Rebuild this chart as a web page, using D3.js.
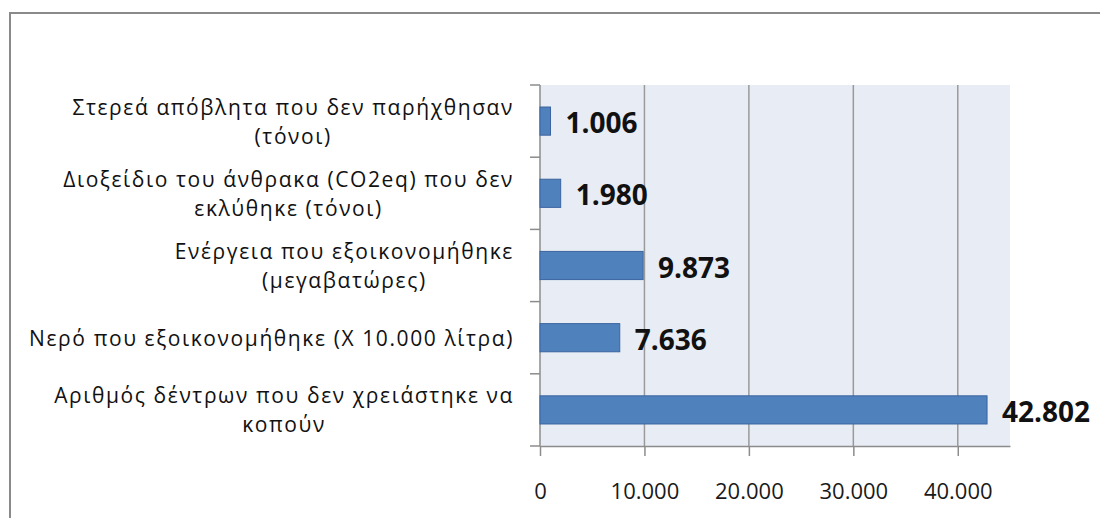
<!DOCTYPE html>
<html>
<head>
<meta charset="utf-8">
<script src="https://cdn.jsdelivr.net/npm/d3@7"></script>
<style>
  html, body { margin: 0; padding: 0; background: #fff; }
  svg { display: block; }
  text { font-family: "Open Sans", "Noto Sans", sans-serif; }
</style>
</head>
<body>
<svg id="chart" width="1100" height="518"></svg>
<script>
// Data
const categories = [
  ["Στερεά απόβλητα που δεν παρήχθησαν", "(τόνοι)"],
  ["Διοξείδιο του άνθρακα (CO2eq) που δεν", "εκλύθηκε (τόνοι)"],
  ["Ενέργεια που εξοικονομήθηκε", "(μεγαβατώρες)"],
  ["Νερό που εξοικονομήθηκε (Χ 10.000 λίτρα)"],
  ["Αριθμός δέντρων που δεν χρειάστηκε να", "κοπούν"]
];
const values = [1006, 1980, 9873, 7636, 42802];
const valueLabels = ["1.006", "1.980", "9.873", "7.636", "42.802"];
const tickValues = [0, 10000, 20000, 30000, 40000];
const tickLabels = ["0", "10.000", "20.000", "30.000", "40.000"];

const svg = d3.select("#chart");

// outer frame
svg.append("rect")
  .attr("x", 10).attr("y", 13).attr("width", 1110).attr("height", 530)
  .attr("fill", "none").attr("stroke", "#8a8a8a").attr("stroke-width", 2);

const plot = { left: 540, right: 1010, top: 85, bottom: 446 };

const x = d3.scaleLinear().domain([0, 45000]).range([plot.left, plot.right]);
const y = d3.scaleBand().domain(d3.range(categories.length))
  .range([plot.top, plot.bottom]).paddingInner(0.61).paddingOuter(0.305);
const yOuter = d3.scaleBand().domain(d3.range(categories.length))
  .range([plot.top, plot.bottom]);

// plot background
svg.append("rect")
  .attr("x", plot.left).attr("y", plot.top)
  .attr("width", plot.right - plot.left).attr("height", plot.bottom - plot.top)
  .attr("fill", "#e8ecf4");

// gridlines
svg.append("g").selectAll("line").data(tickValues.slice(1)).join("line")
  .attr("x1", d => x(d)).attr("x2", d => x(d))
  .attr("y1", plot.top).attr("y2", plot.bottom)
  .attr("stroke", "#9a9a9a").attr("stroke-width", 1.5);

// x axis
const xAxis = d3.axisBottom(x).tickValues(tickValues)
  .tickFormat((d, i) => tickLabels[i]).tickSizeInner(10).tickSizeOuter(0).tickPadding(27);
const gx = svg.append("g").attr("transform", `translate(0,${plot.bottom})`).call(xAxis);
gx.select(".domain").attr("stroke", "#8c8c8c").attr("stroke-width", 1.5);
gx.selectAll(".tick line").attr("stroke", "#8c8c8c").attr("stroke-width", 1.5);
gx.selectAll(".tick text").attr("font-size", 22).attr("fill", "#1a1a1a")
  .style("font-family", '"Open Sans", sans-serif');

// y axis line + ticks at band boundaries
const yTicks = d3.range(categories.length + 1).map(i => plot.top + i * yOuter.step());
svg.append("line")
  .attr("x1", plot.left).attr("x2", plot.left)
  .attr("y1", plot.top).attr("y2", plot.bottom)
  .attr("stroke", "#8c8c8c").attr("stroke-width", 1.5);
svg.append("g").selectAll("line").data(yTicks).join("line")
  .attr("x1", plot.left - 10).attr("x2", plot.left)
  .attr("y1", d => d).attr("y2", d => d)
  .attr("stroke", "#8c8c8c").attr("stroke-width", 1.5);

// bars
svg.append("g").selectAll("rect").data(values).join("rect")
  .attr("x", x(0)).attr("y", (d, i) => y(i))
  .attr("width", d => x(d) - x(0)).attr("height", y.bandwidth())
  .attr("fill", "#4f81bd").attr("stroke", "#3b64a0").attr("stroke-width", 1);

// value labels
svg.append("g").selectAll("text").data(values).join("text")
  .attr("x", d => x(d) + 15)
  .attr("y", (d, i) => yOuter(i) + yOuter.bandwidth() / 2 + 1)
  .attr("dominant-baseline", "central")
  .attr("font-size", 28).attr("font-weight", "bold").attr("fill", "#111")
  .text((d, i) => valueLabels[i]);

// category labels
const labelRight = 514;
const lineH = 29;
const catFont = 21;
categories.forEach((lines, i) => {
  const cy = yOuter(i) + yOuter.bandwidth() / 2;
  const g = svg.append("g");
  const texts = g.selectAll("text").data(lines).join("text")
    .attr("font-size", catFont).attr("fill", "#111")
    .attr("letter-spacing", 1.6)
    .attr("dominant-baseline", "central")
    .attr("text-anchor", "middle")
    .text(d => d);
  let maxW = 0;
  texts.each(function() { maxW = Math.max(maxW, this.getComputedTextLength()); });
  const cx = labelRight - maxW / 2;
  const y0 = cy - (lines.length - 1) * lineH / 2;
  texts.attr("x", cx).attr("y", (d, j) => y0 + j * lineH);
});
</script>
</body>
</html>
